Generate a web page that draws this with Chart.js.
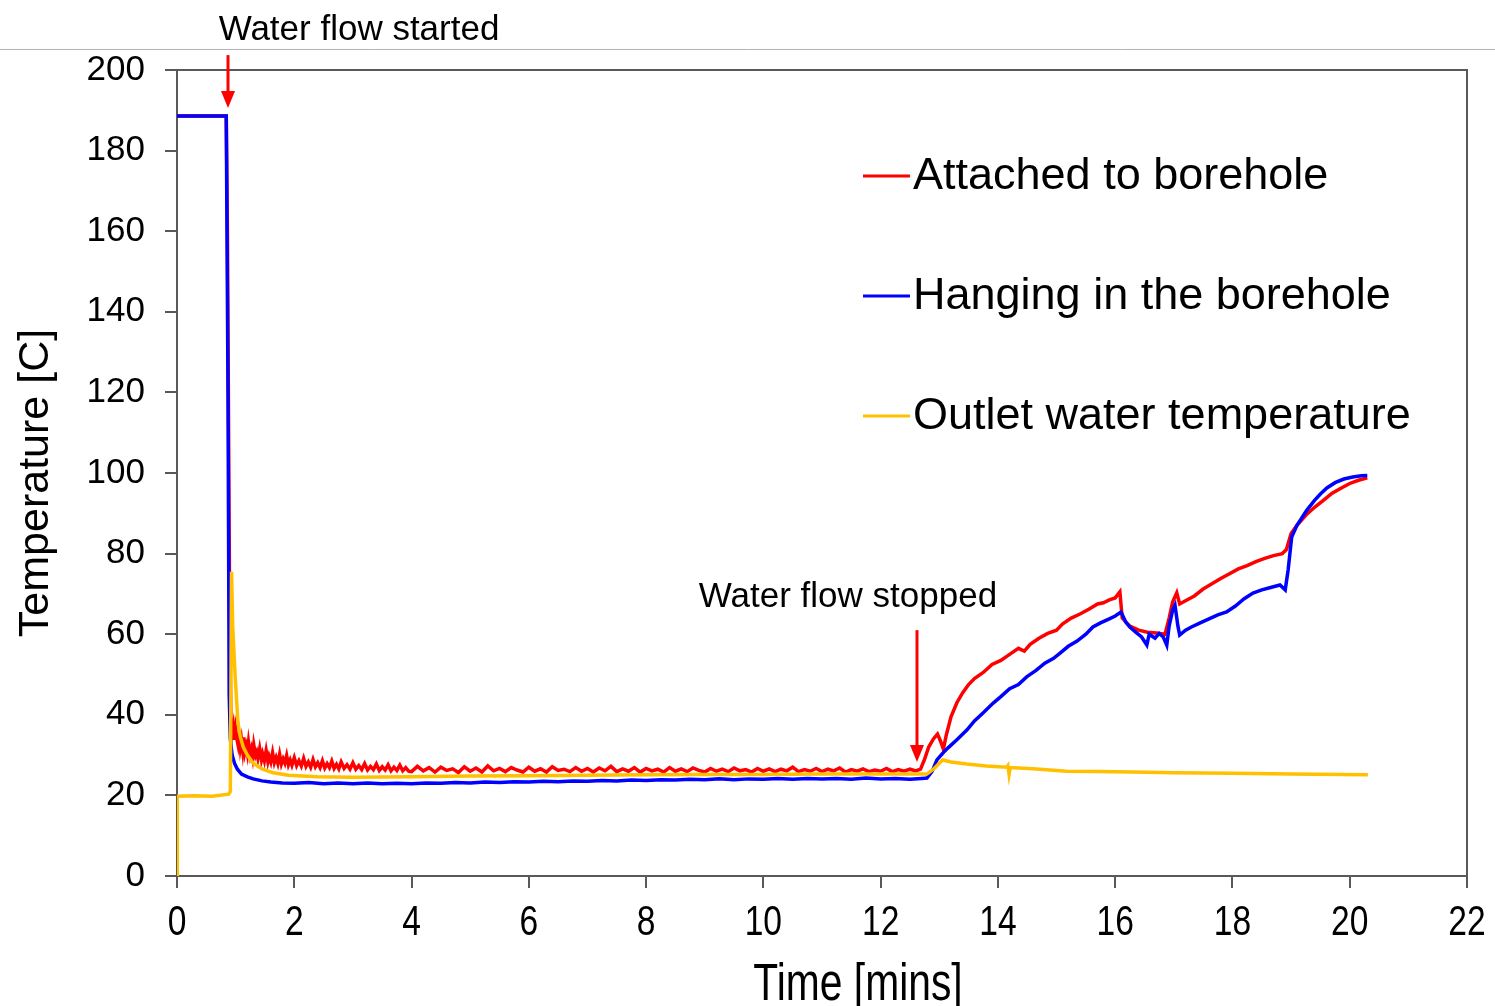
<!DOCTYPE html>
<html>
<head>
<meta charset="utf-8">
<title>Borehole temperature during water flow test</title>
<script src="https://cdn.jsdelivr.net/npm/chart.js@4.4.1/dist/chart.umd.min.js"></script>
<style>
  html, body { margin: 0; padding: 0; background: #fff; }
  #wrap { position: relative; width: 1495px; height: 1006px; }
</style>
</head>
<body>
<div id="wrap"><canvas id="tempChart"></canvas></div>
<script>
// Temperature logs, [time (min), temperature (C)]

const xTicks = [0, 2, 4, 6, 8, 10, 12, 14, 16, 18, 20, 22];
const yTicks = [0, 20, 40, 60, 80, 100, 120, 140, 160, 180, 200];

const xTitle = "Time [mins]";
const yTitle = "Temperature [C]";
const seriesNames = ["Attached to borehole", "Hanging in the borehole", "Outlet water temperature"];

const attached = [
  [0, 188.6], [0.84, 188.6], [0.86, 160], [0.88, 110], [0.9, 60], [0.92, 38],
  [0.94, 35.5], [0.96, 37.2], [0.98, 33.8], [1.0, 36.4], [1.02, 34.1], [1.04, 32.6],
  [1.06, 35.3], [1.08, 31.9], [1.1, 33.7], [1.12, 31.2], [1.14, 34.4], [1.16, 30.8],
  [1.18, 32.1], [1.2, 30.4], [1.22, 33.2], [1.25, 30.1], [1.27, 31.4], [1.29, 29.6],
  [1.31, 32.5], [1.34, 29.9], [1.36, 30.7], [1.38, 29.2], [1.41, 31.6], [1.44, 28.9],
  [1.46, 30.3], [1.49, 28.6], [1.52, 31.1], [1.55, 28.4], [1.57, 29.7], [1.6, 28.3],
  [1.63, 30.6], [1.66, 28.1], [1.69, 29.4], [1.72, 27.9], [1.75, 30.2], [1.78, 27.8],
  [1.81, 29.1], [1.84, 28.0], [1.87, 29.9], [1.9, 27.6], [1.93, 28.8], [1.96, 27.5],
  [2.0, 29.4], [2.04, 27.4], [2.08, 28.6], [2.12, 27.3], [2.16, 29.2], [2.2, 27.2],
  [2.24, 28.3], [2.28, 27.0], [2.32, 28.9], [2.36, 27.1], [2.4, 28.1], [2.44, 26.9],
  [2.48, 28.6], [2.52, 26.8], [2.56, 27.9], [2.6, 26.9], [2.64, 28.5], [2.68, 26.7],
  [2.72, 27.7], [2.76, 26.6], [2.8, 28.3], [2.85, 26.7], [2.9, 27.6], [2.95, 26.5],
  [3.0, 28.1], [3.05, 26.5], [3.1, 27.4], [3.15, 26.4], [3.2, 27.9], [3.25, 26.3],
  [3.3, 27.2], [3.35, 26.4], [3.4, 27.8], [3.45, 26.2], [3.5, 27.1], [3.55, 26.3],
  [3.6, 27.6], [3.65, 26.1], [3.7, 27.0], [3.75, 26.2], [3.8, 27.5], [3.85, 26.1],
  [3.9, 26.9], [3.95, 26.0],
  [4.0, 25.9], [4.1, 27.2], [4.2, 26.1], [4.3, 26.9], [4.4, 25.8], [4.5, 27.0], [4.6, 26.2], [4.7, 26.6], [4.8, 25.7], [4.9, 27.1],
  [5.0, 26.0], [5.1, 26.8], [5.2, 25.8], [5.3, 27.3], [5.4, 26.1], [5.5, 26.7], [5.6, 25.9], [5.7, 26.9], [5.8, 26.3], [5.9, 25.8],
  [6.0, 27.0], [6.1, 26.0], [6.2, 26.6], [6.3, 25.8], [6.4, 27.1], [6.5, 26.2], [6.6, 26.5], [6.7, 25.9], [6.8, 26.9], [6.9, 26.0],
  [7.0, 26.7], [7.1, 25.8], [7.2, 26.8], [7.3, 26.1], [7.4, 27.2], [7.5, 25.9], [7.6, 26.6], [7.7, 26.0], [7.8, 26.9], [7.9, 25.8],
  [8.0, 26.7], [8.1, 26.1], [8.2, 26.5], [8.3, 25.8], [8.4, 26.9], [8.5, 26.0], [8.6, 26.6], [8.7, 25.9], [8.8, 26.8], [8.9, 26.2],
  [9.0, 25.8], [9.1, 26.7], [9.2, 26.0], [9.3, 26.5], [9.4, 25.9], [9.5, 26.8], [9.6, 26.1], [9.7, 26.4], [9.8, 25.8], [9.9, 26.7],
  [10.0, 26.0], [10.1, 26.6], [10.2, 25.9], [10.3, 26.5], [10.4, 26.1], [10.5, 27.0], [10.6, 25.9], [10.7, 26.4], [10.8, 26.0], [10.9, 26.7],
  [11.0, 25.9], [11.1, 26.5], [11.2, 26.1], [11.3, 26.8], [11.4, 25.8], [11.5, 26.4], [11.6, 26.0], [11.7, 26.6], [11.8, 25.9], [11.9, 26.3],
  [12.0, 26.0], [12.1, 26.7], [12.2, 25.9], [12.3, 26.4], [12.4, 26.0], [12.5, 26.5], [12.6, 26.1],
  [12.68, 26.5], [12.75, 29], [12.82, 32], [12.9, 34], [12.97, 35.2], [13.02, 33.5],
  [13.07, 31.5], [13.12, 35], [13.2, 39.5], [13.3, 43], [13.4, 45.5], [13.5, 47.5],
  [13.6, 49], [13.75, 50.5], [13.9, 52.5], [14.05, 53.5], [14.2, 55], [14.35, 56.5],
  [14.45, 55.8], [14.55, 57.5], [14.7, 59], [14.85, 60.2], [15.0, 61], [15.1, 62.5],
  [15.25, 64], [15.4, 65], [15.55, 66.2], [15.7, 67.5], [15.8, 67.8], [15.9, 68.5],
  [16.0, 69], [16.08, 70.5], [16.12, 64], [16.25, 62], [16.4, 61], [16.55, 60.5],
  [16.7, 60.3], [16.85, 60], [16.92, 64], [16.98, 68], [17.05, 70.3], [17.1, 67.5],
  [17.2, 68.3], [17.35, 69.5], [17.5, 71.2], [17.65, 72.5], [17.8, 73.8], [17.95, 75],
  [18.1, 76.2], [18.25, 77], [18.4, 78], [18.55, 78.8], [18.7, 79.5], [18.85, 80],
  [18.92, 81], [19.0, 85], [19.1, 87], [19.25, 89.5], [19.4, 91.5], [19.55, 93.2],
  [19.7, 95], [19.85, 96.2], [20.0, 97.4], [20.15, 98.2], [20.3, 98.8]
];

const hanging = [
  [0, 188.6], [0.84, 188.6], [0.87, 120], [0.89, 45], [0.91, 34], [0.94, 30],
  [0.98, 28], [1.03, 26.5], [1.1, 25.3], [1.2, 24.6], [1.3, 24.1], [1.45, 23.6],
  [1.6, 23.3], [1.8, 23.1],
  [2.0, 23.0], [2.25, 23.2], [2.5, 22.9], [2.75, 23.1], [3.0, 22.9], [3.25, 23.1], [3.5, 22.9], [3.75, 23.0],
  [4.0, 22.9], [4.25, 23.1], [4.5, 23.0], [4.75, 23.2], [5.0, 23.1], [5.25, 23.3], [5.5, 23.2], [5.75, 23.4],
  [6.0, 23.3], [6.25, 23.5], [6.5, 23.4], [6.75, 23.6], [7.0, 23.5], [7.25, 23.7], [7.5, 23.6], [7.75, 23.8],
  [8.0, 23.7], [8.25, 23.9], [8.5, 23.8], [8.75, 24.0], [9.0, 23.9], [9.25, 24.1], [9.5, 23.9], [9.75, 24.1],
  [10.0, 24.0], [10.25, 24.2], [10.5, 24.0], [10.75, 24.2], [11.0, 24.1], [11.25, 24.2], [11.5, 24.0], [11.75, 24.3],
  [12.0, 24.1], [12.25, 24.2], [12.5, 24.0], [12.7, 24.2],
  [12.79, 24.3], [12.88, 26], [12.96, 28.8], [13.06, 30.5], [13.15, 31.8], [13.3, 33.8],
  [13.47, 36.2], [13.6, 38.5], [13.75, 40.5], [13.92, 42.9], [14.05, 44.5], [14.2, 46.5],
  [14.35, 47.5], [14.49, 49.4], [14.65, 51], [14.8, 52.8], [14.95, 54], [15.06, 55.3],
  [15.2, 57], [15.35, 58.3], [15.5, 60], [15.62, 61.8], [15.75, 62.8], [15.9, 63.8],
  [16.0, 64.5], [16.1, 65.5], [16.18, 63], [16.25, 61.8], [16.35, 60.5], [16.45, 59.3],
  [16.54, 57.3], [16.58, 60], [16.68, 59], [16.75, 60.2], [16.82, 59.3], [16.88, 57.3],
  [16.92, 62], [16.98, 66], [17.02, 67.2], [17.07, 62], [17.1, 59.8], [17.2, 61],
  [17.3, 61.8], [17.45, 62.8], [17.6, 63.8], [17.75, 64.8], [17.9, 65.5], [18.05, 67],
  [18.2, 68.8], [18.35, 70.2], [18.5, 71], [18.65, 71.6], [18.81, 72.2], [18.9, 71],
  [18.95, 76], [19.01, 84.1], [19.1, 87], [19.27, 90.8], [19.4, 93.2], [19.5, 94.8],
  [19.61, 96.3], [19.75, 97.6], [19.9, 98.5], [20.05, 99], [20.2, 99.3], [20.3, 99.4]
];

const outlet = [
  [0, 0], [0.005, 19.8], [0.3, 19.9], [0.6, 19.8], [0.88, 20.3], [0.91, 21],
  [0.93, 75.5], [0.95, 62], [0.99, 50], [1.04, 38], [1.08, 34.5], [1.13, 32],
  [1.2, 30], [1.3, 28], [1.45, 26.6], [1.64, 25.6], [1.9, 25], [2.39, 24.6],
  [3.0, 24.5], [4.0, 24.6], [5.0, 24.8], [6.0, 24.9], [7.0, 25.0], [8.0, 25.1],
  [9.0, 25.2], [10.0, 25.2], [11.0, 25.3], [12.0, 25.3], [12.79, 25.3],
  [12.9, 26.5], [13.0, 28], [13.06, 28.8], [13.2, 28.3], [13.47, 27.8], [13.8, 27.3],
  [14.15, 27], [14.17, 27.4], [14.19, 25.2], [14.21, 26.9], [14.6, 26.6], [15.17, 26],
  [15.7, 25.9], [16.3, 25.8], [17.0, 25.6], [18.0, 25.5], [19.0, 25.3], [20.31, 25.1]
];

// arrows pointing at the start and stop of the water flow (data units)
const flowEvents = [
  { text: "Water flow started", time: 0.87, tipTemp: 190.6, tailTemp: 203.7 },
  { text: "Water flow stopped", time: 12.62, tipTemp: 28.3, tailTemp: 61.0 }
];

const seriesColors = ["#ff0000", "#0000ff", "#ffc000"];
const AXIS = "#595959";
const FONT = "'Liberation Sans', Arial, sans-serif";

function toPoints(rows) {
  return rows.map(([x, y]) => ({ x, y }));
}

function drawArrow(ctx, x, y0, y1, color) {
  const head = 17;
  ctx.save();
  ctx.strokeStyle = color;
  ctx.fillStyle = color;
  ctx.lineWidth = 3;
  ctx.beginPath();
  ctx.moveTo(x, y0);
  ctx.lineTo(x, y1 - head + 2);
  ctx.stroke();
  ctx.beginPath();
  ctx.moveTo(x, y1);
  ctx.lineTo(x - 7, y1 - head);
  ctx.lineTo(x + 7, y1 - head);
  ctx.closePath();
  ctx.fill();
  ctx.restore();
}

// condensed text (no narrow face installed, so squeeze the regular one)
function narrowText(ctx, text, x, y, size, squeeze) {
  ctx.save();
  ctx.font = size + "px " + FONT;
  ctx.textAlign = "center";
  ctx.textBaseline = "alphabetic";
  ctx.translate(x, y);
  ctx.scale(squeeze, 1);
  ctx.fillText(text, 0, 0);
  ctx.restore();
}

// page rule, plot frame, axis text, flow annotations and the legend
const decorPlugin = {
  id: "decor",
  beforeDraw(chart) {
    const ctx = chart.ctx;
    ctx.save();
    ctx.strokeStyle = "#b4b4b4";
    ctx.lineWidth = 1;
    ctx.beginPath();
    ctx.moveTo(0, 49.5);
    ctx.lineTo(chart.width, 49.5);
    ctx.stroke();
    ctx.restore();
  },
  beforeDatasetsDraw(chart) {
    const { ctx, chartArea: a } = chart;
    ctx.save();
    ctx.strokeStyle = AXIS;
    ctx.lineWidth = 2;
    ctx.strokeRect(a.left, a.top, a.right - a.left, a.bottom - a.top);
    ctx.restore();
  },
  afterDraw(chart) {
    const ctx = chart.ctx;
    const xs = chart.scales.x, ys = chart.scales.y;
    const a = chart.chartArea;

    // x tick labels and axis titles
    ctx.save();
    ctx.fillStyle = "#000";
    xTicks.forEach((v) => narrowText(ctx, String(v), xs.getPixelForValue(v), a.bottom + 59, 42, 0.8));
    narrowText(ctx, xTitle, a.left + (a.right - a.left) / 2 + 36, a.bottom + 124, 51, 0.8);
    ctx.font = "43px " + FONT;
    ctx.textAlign = "center";
    ctx.textBaseline = "alphabetic";
    ctx.translate(48, a.top + (a.bottom - a.top) / 2 + 10);
    ctx.rotate(-Math.PI / 2);
    ctx.fillText(yTitle, 0, 0);
    ctx.restore();

    const [started, stopped] = flowEvents;
    let x = xs.getPixelForValue(started.time);
    drawArrow(ctx, x, ys.getPixelForValue(started.tailTemp), ys.getPixelForValue(started.tipTemp), "#ff0000");
    ctx.save();
    ctx.fillStyle = "#000";
    ctx.font = "35px " + FONT;
    ctx.textAlign = "center";
    ctx.textBaseline = "alphabetic";
    ctx.fillText(started.text, x + 131, ys.getPixelForValue(started.tailTemp) - 15);

    x = xs.getPixelForValue(stopped.time);
    drawArrow(ctx, x, ys.getPixelForValue(stopped.tailTemp), ys.getPixelForValue(stopped.tipTemp), "#ff0000");
    ctx.textBaseline = "middle";
    ctx.fillText(stopped.text, x - 69, ys.getPixelForValue(stopped.tailTemp) - 33);
    ctx.restore();

    // legend
    const lx = 863, ly = 176, gap = 120;
    ctx.save();
    ctx.font = "45px " + FONT;
    ctx.textBaseline = "middle";
    ctx.fillStyle = "#000";
    chart.data.datasets.forEach((ds, i) => {
      const y = ly + i * gap;
      ctx.strokeStyle = ds.borderColor;
      ctx.lineWidth = 3;
      ctx.beginPath();
      ctx.moveTo(lx, y);
      ctx.lineTo(lx + 47, y);
      ctx.stroke();
      ctx.fillText(ds.label, lx + 50, y + 1);
    });
    ctx.restore();
  }
};

// red sits underneath, outlet water on top
const datasets = [attached, hanging, outlet].map((rows, i) => ({
  label: seriesNames[i],
  data: toPoints(rows),
  borderColor: seriesColors[i],
  backgroundColor: seriesColors[i],
  borderWidth: 3.5,
  pointRadius: 0,
  showLine: true,
  tension: 0,
  order: 3 - i
}));

new Chart(document.getElementById("tempChart"), {
  type: "scatter",
  data: { datasets },
  plugins: [decorPlugin],
  options: {
    responsive: true,
    maintainAspectRatio: false,
    animation: false,
    layout: { padding: { top: 70, right: 28, left: 0, bottom: 0 } },
    plugins: {
      legend: { display: false },
      tooltip: { enabled: false }
    },
    scales: {
      x: {
        type: "linear",
        min: xTicks[0],
        max: xTicks[xTicks.length - 1],
        afterBuildTicks: (s) => { s.ticks = xTicks.map((v) => ({ value: v })); },
        afterFit: (s) => { s.height = 130; },
        grid: { drawOnChartArea: false, drawTicks: true, tickLength: 12, color: AXIS, lineWidth: 2 },
        border: { display: true, color: AXIS, width: 2 },
        ticks: { display: false },
        title: { display: false }
      },
      y: {
        type: "linear",
        min: yTicks[0],
        max: yTicks[yTicks.length - 1],
        afterBuildTicks: (s) => { s.ticks = yTicks.map((v) => ({ value: v })); },
        afterFit: (s) => { s.width = 177; },
        grid: { drawOnChartArea: false, drawTicks: true, tickLength: 12, color: AXIS, lineWidth: 2 },
        border: { display: true, color: AXIS, width: 2 },
        ticks: { color: "#000", font: { family: FONT, size: 35 }, padding: 20 },
        title: { display: false }
      }
    }
  }
});
</script>
</body>
</html>
